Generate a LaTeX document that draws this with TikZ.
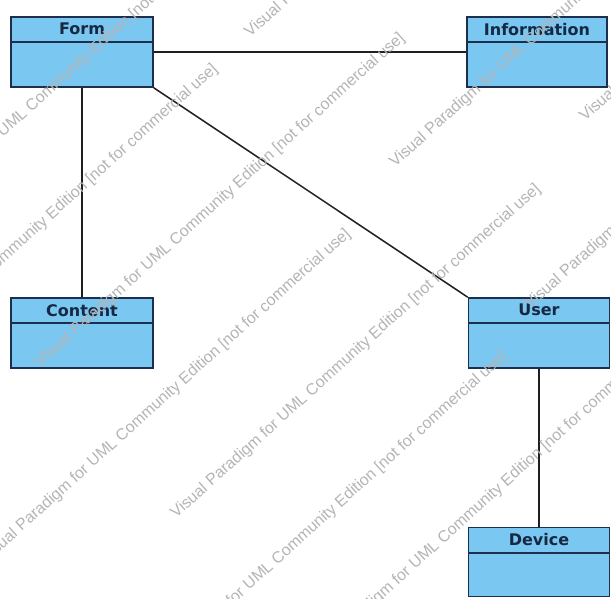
\documentclass[tikz,border=0pt]{standalone}
\usepackage{fontspec}
\setmainfont{Liberation Sans}
\newfontfamily\classfont{DejaVu Sans}
\definecolor{classfill}{RGB}{122,199,241}
\definecolor{classline}{RGB}{28,48,78}
\definecolor{classtext}{RGB}{22,40,66}
\definecolor{wmark}{RGB}{180,180,180}
\begin{document}
\begin{tikzpicture}[x=1pt,y=-1pt,
  classbox/.style={draw=classline, fill=classfill, line width=1.6pt,
    minimum width=142pt, minimum height=70pt, inner sep=0pt},
  classname/.style={font=\classfont\bfseries\fontsize{16}{18}\selectfont,
    text=classtext, inner sep=0pt},
  divider/.style={draw=classline, line width=1.6pt},
  assoc/.style={draw=black!88, line width=1.5pt},
  wm/.style={font=\fontsize{16}{18}\selectfont, text=wmark, rotate=42,
    anchor=base west, inner sep=0pt}
]
\useasboundingbox (0,0) rectangle (611,598);

% class boxes
\node[classbox] (form)    at (82,52)    {};
\node[classbox, minimum width=140pt] (info) at (537,52) {};
\node[classbox] (content) at (82,333)   {};
\node[classbox, minimum width=141pt] (user)   at (539,333) {};
\node[classbox, minimum width=141pt, minimum height=69pt] (device) at (539,562) {};

% name compartments
\foreach \b/\t in {form/Form, info/Information, content/Content, user/User, device/Device}{
  \draw[divider] ([yshift=-26pt]\b.north west) -- ([yshift=-26pt]\b.north east);
  \node[classname] (\b name) at ([yshift=-13pt]\b.north) {\t};
}

% associations
\draw[assoc] (form.east) -- (info.west);
\draw[assoc] (form.south) -- (content.north);
\draw[assoc] (form.south east) -- (user.north west);
\draw[assoc] (user.south) -- (device.north);

% edition watermark
\begin{scope}
\clip (0,0) rectangle (611,598);
\foreach \x/\y [count=\i] in {-104/234, -147/399, 40/368, 176/519, -14/564,
    142/687, 308/666, 395/168, 530/310, 250/38, 585/122}{
  \node[wm] (wm\i) at (\x,\y)
    {Visual Paradigm for UML Community Edition [not for commercial use]};
}
\end{scope}
\end{tikzpicture}
\end{document}
